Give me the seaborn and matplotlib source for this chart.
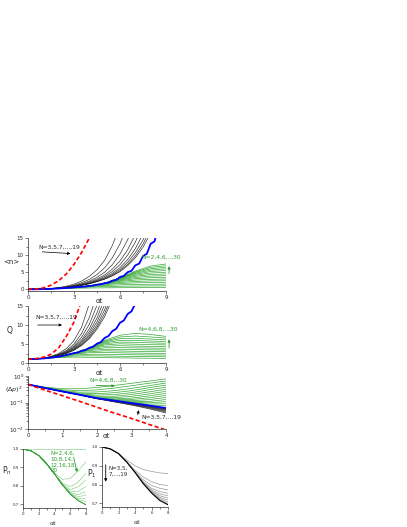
import numpy as np
import pandas as pd
import matplotlib
matplotlib.use("Agg")
import matplotlib.pyplot as plt
import seaborn as sns
from matplotlib.ticker import MultipleLocator, LogLocator, NullFormatter

# ---------------- datos ----------------
# panel <n>
t1 = [0, 0.5, 1, 1.5, 2, 2.5, 3, 3.5, 4, 4.5, 5, 5.5, 6, 6.5, 7, 7.5, 8]
t1_g = [0, 1, 2, 3, 4, 5, 6, 7, 8, 9]
n_rojo_t = [0, 0.5, 1, 1.5, 2, 2.5, 3, 3.5, 4, 4.5]
n_rojo = [0, 0.08, 0.4, 1.2, 2.5, 4.5, 7.3, 10.8, 15.0, 21]
n_azul_t = [0, 0.5, 1, 1.5, 2, 2.5, 3, 3.5, 3.75, 4, 4.25, 4.5, 4.75, 5, 5.25, 5.5, 5.75,
            6, 6.25, 6.5, 6.75, 7, 7.25, 7.5, 7.75, 8, 8.25, 8.5]
n_azul = [0, 0.015, 0.06, 0.13, 0.24, 0.38, 0.55, 0.75, 0.8, 1.0, 1.07, 1.35, 1.45, 1.8, 1.95,
          2.5, 2.75, 3.6, 3.9, 5.0, 5.4, 7.0, 7.5, 9.7, 10.4, 13.3, 14.0, 18]
n_negro = {
    3: [0, 0.02, 0.1, 0.25, 0.5, 0.9, 1.5, 2.4, 3.8, 5.7, 8.5, 12.8, 18.5],
    5: [0, 0.02, 0.09, 0.22, 0.43, 0.75, 1.2, 1.9, 2.9, 4.3, 6.3, 9.2, 13.3, 19],
    7: [0, 0.02, 0.08, 0.2, 0.4, 0.68, 1.05, 1.6, 2.4, 3.5, 5.0, 7.2, 10.3, 14.5, 20],
    9: [0, 0.02, 0.08, 0.19, 0.37, 0.62, 0.97, 1.45, 2.1, 3.0, 4.2, 5.9, 8.3, 11.6, 16],
    11: [0, 0.02, 0.08, 0.18, 0.35, 0.58, 0.9, 1.33, 1.9, 2.7, 3.75, 5.2, 7.2, 10.0, 13.8, 19],
    13: [0, 0.02, 0.07, 0.18, 0.34, 0.55, 0.85, 1.25, 1.78, 2.5, 3.4, 4.65, 6.35, 8.7, 11.9, 16.2],
    15: [0, 0.02, 0.07, 0.17, 0.33, 0.53, 0.82, 1.2, 1.7, 2.35, 3.2, 4.3, 5.8, 7.9, 10.7, 14.4, 19.5],
    17: [0, 0.02, 0.07, 0.17, 0.32, 0.52, 0.8, 1.17, 1.65, 2.27, 3.05, 4.05, 5.4, 7.3, 9.8, 13.2, 17.8],
    19: [0, 0.02, 0.07, 0.17, 0.32, 0.51, 0.79, 1.15, 1.62, 2.2, 2.95, 3.9, 5.15, 6.9, 9.2, 12.3, 16.4],
}
n_verde = {
    2: [0, 0.06, 0.18, 0.3, 0.38, 0.43, 0.46, 0.48, 0.49, 0.5],
    4: [0, 0.07, 0.22, 0.45, 0.65, 0.8, 0.9, 0.95, 0.98, 1.0],
    6: [0, 0.07, 0.23, 0.5, 0.82, 1.1, 1.3, 1.42, 1.47, 1.5],
    8: [0, 0.07, 0.24, 0.53, 0.9, 1.35, 1.7, 1.88, 1.96, 2.0],
    10: [0, 0.07, 0.24, 0.54, 0.95, 1.5, 2.0, 2.3, 2.45, 2.5],
    12: [0, 0.07, 0.24, 0.55, 0.97, 1.6, 2.3, 2.7, 2.92, 3.0],
    14: [0, 0.07, 0.24, 0.55, 0.98, 1.65, 2.5, 3.1, 3.38, 3.5],
    16: [0, 0.07, 0.24, 0.55, 1.0, 1.7, 2.7, 3.45, 3.85, 4.0],
    18: [0, 0.07, 0.24, 0.55, 1.0, 1.72, 2.85, 3.8, 4.3, 4.5],
    20: [0, 0.07, 0.24, 0.55, 1.0, 1.75, 3.0, 4.1, 4.75, 5.0],
    22: [0, 0.07, 0.24, 0.55, 1.0, 1.77, 3.1, 4.4, 5.2, 5.5],
    24: [0, 0.07, 0.24, 0.55, 1.0, 1.78, 3.2, 4.65, 5.6, 6.0],
    26: [0, 0.07, 0.24, 0.55, 1.0, 1.79, 3.3, 4.9, 6.0, 6.45],
    28: [0, 0.07, 0.24, 0.55, 1.0, 1.8, 3.35, 5.1, 6.4, 6.9],
    30: [0, 0.07, 0.24, 0.55, 1.0, 1.8, 3.4, 5.3, 6.8, 7.4],
}

# panel Q
q_rojo_t = [0, 0.5, 1, 1.5, 2, 2.5, 3, 3.5]
q_rojo = [1, 1.15, 1.5, 2.3, 4.0, 7.0, 10.8, 16.5]
q_azul_t = [0, 0.5, 1, 1.5, 2, 2.5, 3, 3.25, 3.5, 3.75, 4, 4.25, 4.5, 4.75, 5, 5.25, 5.5,
            5.75, 6, 6.25, 6.5, 6.75, 7]
q_azul = [1, 1.05, 1.2, 1.4, 1.65, 2.1, 2.6, 2.75, 3.2, 3.4, 4.0, 4.3, 5.1, 5.5, 6.6, 7.1,
          8.4, 9.0, 10.6, 11.2, 12.9, 13.6, 15.6]
q_negro = {
    3: [1, 1.08, 1.3, 1.75, 2.5, 3.8, 5.9, 9.5, 15.6],
    5: [1, 1.07, 1.28, 1.65, 2.3, 3.3, 5.0, 7.8, 12.0, 18],
    7: [1, 1.06, 1.26, 1.6, 2.2, 3.1, 4.5, 6.8, 10.2, 15.2],
    9: [1, 1.06, 1.25, 1.57, 2.1, 2.9, 4.2, 6.1, 9.0, 13.2, 19],
    11: [1, 1.06, 1.24, 1.55, 2.05, 2.8, 3.95, 5.7, 8.2, 11.8, 17],
    13: [1, 1.06, 1.23, 1.53, 2.0, 2.7, 3.75, 5.3, 7.6, 10.8, 15.3],
    15: [1, 1.05, 1.22, 1.51, 1.95, 2.6, 3.6, 5.0, 7.1, 10.0, 14.0, 19.5],
    17: [1, 1.05, 1.22, 1.5, 1.92, 2.55, 3.45, 4.8, 6.7, 9.4, 13.0, 18],
    19: [1, 1.05, 1.21, 1.48, 1.9, 2.5, 3.35, 4.6, 6.4, 8.9, 12.2, 16.8],
}
q_verde = {
    4: [1, 1.18, 1.45, 1.55, 1.5, 1.42, 1.35, 1.3, 1.25, 1.2],
    6: [1, 1.19, 1.55, 1.85, 1.9, 1.85, 1.78, 1.72, 1.68, 1.65],
    8: [1, 1.2, 1.6, 2.1, 2.3, 2.3, 2.22, 2.16, 2.12, 2.1],
    10: [1, 1.2, 1.62, 2.3, 2.7, 2.75, 2.68, 2.6, 2.56, 2.54],
    12: [1, 1.2, 1.63, 2.4, 3.0, 3.2, 3.15, 3.07, 3.02, 2.98],
    14: [1, 1.2, 1.64, 2.48, 3.3, 3.6, 3.6, 3.52, 3.46, 3.43],
    16: [1, 1.2, 1.65, 2.52, 3.5, 4.0, 4.05, 3.98, 3.92, 3.88],
    18: [1, 1.2, 1.65, 2.55, 3.65, 4.4, 4.55, 4.45, 4.37, 4.32],
    20: [1, 1.2, 1.65, 2.57, 3.75, 4.75, 5.05, 4.95, 4.83, 4.77],
    22: [1, 1.2, 1.65, 2.58, 3.82, 5.05, 5.5, 5.45, 5.3, 5.2],
    24: [1, 1.2, 1.65, 2.59, 3.88, 5.3, 5.95, 5.95, 5.78, 5.65],
    26: [1, 1.2, 1.65, 2.6, 3.92, 5.55, 6.4, 6.5, 6.3, 6.1],
    28: [1, 1.2, 1.65, 2.6, 3.95, 5.75, 6.85, 7.1, 6.85, 6.55],
    30: [1, 1.2, 1.65, 2.6, 3.97, 5.95, 7.3, 7.8, 7.5, 7.0],
}

# panel (dp)^2
t3 = [0, 0.5, 1, 1.5, 2, 2.5, 3, 3.5, 4]
dp_rojo = [0.48, 0.29, 0.18, 0.11, 0.066, 0.040, 0.025, 0.015, 0.0091]
dp_azul = [0.48, 0.35, 0.26, 0.195, 0.145, 0.118, 0.095, 0.077, 0.062]
dp_negro = {
    3: [0.48, 0.35, 0.26, 0.193, 0.138, 0.105, 0.080, 0.058, 0.040],
    5: [0.48, 0.35, 0.26, 0.193, 0.139, 0.107, 0.082, 0.061, 0.043],
    7: [0.48, 0.35, 0.26, 0.194, 0.140, 0.109, 0.084, 0.064, 0.046],
    9: [0.48, 0.35, 0.26, 0.194, 0.141, 0.111, 0.086, 0.066, 0.049],
    11: [0.48, 0.35, 0.26, 0.194, 0.142, 0.112, 0.088, 0.068, 0.051],
    13: [0.48, 0.35, 0.26, 0.195, 0.142, 0.113, 0.089, 0.070, 0.053],
    15: [0.48, 0.35, 0.26, 0.195, 0.143, 0.114, 0.090, 0.072, 0.055],
    17: [0.48, 0.35, 0.26, 0.195, 0.143, 0.115, 0.091, 0.073, 0.057],
    19: [0.48, 0.35, 0.26, 0.195, 0.144, 0.116, 0.092, 0.074, 0.058],
}
dp_verde = {
    4: [0.48, 0.38, 0.33, 0.33, 0.37, 0.44, 0.53, 0.64, 0.776],
    6: [0.48, 0.37, 0.30, 0.28, 0.30, 0.35, 0.43, 0.53, 0.649],
    8: [0.48, 0.36, 0.28, 0.245, 0.25, 0.28, 0.34, 0.43, 0.542],
    10: [0.48, 0.355, 0.27, 0.225, 0.215, 0.235, 0.28, 0.36, 0.453],
    12: [0.48, 0.35, 0.265, 0.21, 0.19, 0.2, 0.235, 0.3, 0.379],
    14: [0.48, 0.35, 0.262, 0.203, 0.172, 0.172, 0.2, 0.25, 0.316],
    16: [0.48, 0.35, 0.26, 0.2, 0.16, 0.152, 0.17, 0.21, 0.264],
    18: [0.48, 0.35, 0.26, 0.197, 0.153, 0.138, 0.146, 0.177, 0.221],
    20: [0.48, 0.35, 0.26, 0.196, 0.149, 0.13, 0.13, 0.15, 0.185],
    22: [0.48, 0.35, 0.26, 0.195, 0.147, 0.124, 0.117, 0.128, 0.154],
    24: [0.48, 0.35, 0.26, 0.195, 0.146, 0.121, 0.108, 0.11, 0.129],
    26: [0.48, 0.35, 0.26, 0.195, 0.145, 0.12, 0.102, 0.097, 0.108],
    28: [0.48, 0.35, 0.26, 0.195, 0.145, 0.119, 0.098, 0.087, 0.09],
    30: [0.48, 0.35, 0.26, 0.195, 0.145, 0.118, 0.096, 0.081, 0.075],
}

# paneles Pn y P1
t4 = [0, 1, 2, 3, 4, 5, 6, 7, 8]
pn_curvas = {
    2: [1, 1, 1, 1, 1, 1, 1, 1, 1],
    4: [1.0, 0.99, 0.965, 0.92, 0.87, 0.835, 0.84, 0.88, 0.931],
    6: [1.0, 0.99, 0.965, 0.92, 0.866, 0.815, 0.795, 0.82, 0.868],
    8: [1.0, 0.99, 0.965, 0.92, 0.865, 0.81, 0.78, 0.795, 0.832],
    10: [1.0, 0.99, 0.965, 0.92, 0.865, 0.807, 0.77, 0.77, 0.796],
    12: [1.0, 0.99, 0.965, 0.92, 0.865, 0.806, 0.763, 0.752, 0.769],
    14: [1.0, 0.99, 0.965, 0.92, 0.865, 0.805, 0.76, 0.74, 0.751],
    16: [1.0, 0.99, 0.965, 0.92, 0.865, 0.805, 0.757, 0.73, 0.733],
    18: [1.0, 0.99, 0.965, 0.92, 0.865, 0.805, 0.756, 0.725, 0.715],
    20: [1.0, 0.99, 0.965, 0.92, 0.865, 0.805, 0.755, 0.72, 0.697],
}
p1_curvas = {
    3: [1.0, 0.99, 0.965, 0.93, 0.9, 0.88, 0.87, 0.862, 0.858],
    5: [1.0, 0.99, 0.965, 0.92, 0.875, 0.84, 0.815, 0.80, 0.795],
    7: [1.0, 0.99, 0.965, 0.92, 0.868, 0.825, 0.795, 0.78, 0.771],
    9: [1.0, 0.99, 0.965, 0.92, 0.866, 0.815, 0.78, 0.762, 0.753],
    11: [1.0, 0.99, 0.965, 0.92, 0.866, 0.81, 0.772, 0.75, 0.74],
    13: [1.0, 0.99, 0.965, 0.92, 0.865, 0.808, 0.766, 0.74, 0.728],
    15: [1.0, 0.99, 0.965, 0.92, 0.865, 0.806, 0.762, 0.732, 0.717],
    17: [1.0, 0.99, 0.965, 0.92, 0.865, 0.806, 0.759, 0.725, 0.708],
    19: [1.0, 0.99, 0.965, 0.92, 0.865, 0.805, 0.757, 0.72, 0.699],
}
p1_negro = [1.0, 0.99, 0.965, 0.92, 0.865, 0.805, 0.755, 0.715, 0.692]

VERDE = "#33a833"
VERDE_TXT = "#2e9e2e"


def familia(t, curvas):
    filas = []
    for n, vals in curvas.items():
        for x, v in zip(t, vals):
            filas.append({"t": x, "v": v, "N": n})
    return pd.DataFrame(filas)


def dibujar(ax, t, curvas, **kw):
    df = familia(t, curvas)
    sns.lineplot(data=df, x="t", y="v", units="N", estimator=None, sort=False,
                 legend=False, ax=ax, **kw)


def curva(ax, t, v, **kw):
    sns.lineplot(x=t, y=v, estimator=None, sort=False, legend=False, ax=ax, **kw)


def estilo(ax, fs=4):
    for s in ["left", "bottom"]:
        ax.spines[s].set_linewidth(0.5)
    ax.tick_params(which="major", direction="out", length=2, width=0.4, labelsize=fs, pad=1)
    ax.tick_params(which="minor", direction="out", length=1.1, width=0.4)
    ax.set_xlabel("")
    ax.set_ylabel("")


sns.set_style("ticks")
plt.rcParams["font.family"] = ["DejaVu Sans"]

W, H = 407, 527
fig = plt.figure(figsize=(W / 100, H / 100), dpi=100)


def caja(x0, x1, ytop, ybot):
    return [x0 / W, (H - ybot) / H, (x1 - x0) / W, (ybot - ytop) / H]


# ---------- panel 1: <n> ----------
ax1 = fig.add_axes(caja(28, 166, 238, 291))
dibujar(ax1, t1_g, n_verde, color=VERDE, lw=0.5)
dibujar(ax1, t1, n_negro, color="#222222", lw=0.45)
curva(ax1, n_azul_t, n_azul, color="#0000ff", lw=1.3)
curva(ax1, n_rojo_t, n_rojo, color="#ff0000", lw=1.2, linestyle=(0, (2.5, 1.5)))
ax1.set_xlim(0, 9)
ax1.set_ylim(-0.5, 15)
estilo(ax1)
ax1.set_xticks([0, 3, 6, 9])
ax1.set_yticks([0, 5, 10, 15])
ax1.xaxis.set_minor_locator(MultipleLocator(1.5))
ax1.yaxis.set_minor_locator(MultipleLocator(2.5))
ax1.set_ylabel("<n>", fontsize=5, rotation=0)
ax1.yaxis.set_label_coords(-0.12, 0.5)
ax1.set_xlabel("αt", fontsize=5)
ax1.xaxis.set_label_coords(0.52, -0.13)
ax1.text(0.65, 12.4, "N=3,5,7,...,19", fontsize=4.3, va="center")
ax1.annotate("", xy=(2.95, 10.4), xytext=(0.75, 11.0),
             arrowprops=dict(arrowstyle="-|>", lw=0.5, color="black", mutation_scale=4))
ax1.text(7.4, 9.3, "N=2,4,6,..,30", fontsize=4.3, va="center", color=VERDE_TXT)
ax1.annotate("", xy=(9.2, 7.6), xytext=(9.2, 3.8), annotation_clip=False,
             arrowprops=dict(arrowstyle="-|>", lw=0.6, color=VERDE_TXT, mutation_scale=4))
sns.despine(ax=ax1)

# ---------- panel 2: Q ----------
ax2 = fig.add_axes(caja(28, 166, 306, 363))
dibujar(ax2, t1_g, q_verde, color=VERDE, lw=0.5)
dibujar(ax2, t1, q_negro, color="#222222", lw=0.45)
curva(ax2, q_azul_t, q_azul, color="#0000ff", lw=1.3)
curva(ax2, q_rojo_t, q_rojo, color="#ff0000", lw=1.2, linestyle=(0, (2.5, 1.5)))
ax2.set_xlim(0, 9)
ax2.set_ylim(0, 15)
estilo(ax2)
ax2.set_xticks([0, 3, 6, 9])
ax2.set_yticks([0, 5, 10, 15])
ax2.xaxis.set_minor_locator(MultipleLocator(1.5))
ax2.yaxis.set_minor_locator(MultipleLocator(2.5))
ax2.set_ylabel("Q", fontsize=5.5, rotation=0)
ax2.yaxis.set_label_coords(-0.13, 0.5)
ax2.set_xlabel("αt", fontsize=5)
ax2.xaxis.set_label_coords(0.52, -0.12)
ax2.text(0.45, 12.0, "N=3,5,7,...,19", fontsize=4.3, va="center")
ax2.annotate("", xy=(2.4, 10.0), xytext=(0.45, 10.0),
             arrowprops=dict(arrowstyle="-|>", lw=0.5, color="black", mutation_scale=4))
ax2.text(7.2, 8.9, "N=4,6,8,..,30", fontsize=4.3, va="center", color=VERDE_TXT)
ax2.annotate("", xy=(9.2, 7.0), xytext=(9.2, 3.2), annotation_clip=False,
             arrowprops=dict(arrowstyle="-|>", lw=0.6, color=VERDE_TXT, mutation_scale=4))
sns.despine(ax=ax2)

# ---------- panel 3: (dp)^2 ----------
ax3 = fig.add_axes(caja(28, 166, 376, 429))
dibujar(ax3, t3, dp_verde, color=VERDE, lw=0.5)
dibujar(ax3, t3, dp_negro, color="#333333", lw=0.45)
curva(ax3, t3, dp_azul, color="#0000ff", lw=1.3)
curva(ax3, t3, dp_rojo, color="#ff0000", lw=1.2, linestyle=(0, (2.5, 1.5)))
ax3.set_yscale("log")
ax3.set_xlim(0, 4)
ax3.set_ylim(0.01, 1)
estilo(ax3)
ax3.set_xticks([0, 1, 2, 3, 4])
ax3.xaxis.set_minor_locator(MultipleLocator(0.5))
ax3.yaxis.set_minor_locator(LogLocator(subs=np.arange(2, 10)))
ax3.yaxis.set_minor_formatter(NullFormatter())
ax3.set_ylabel(r"$(\Delta p)^2$", fontsize=4.6, rotation=0)
ax3.yaxis.set_label_coords(-0.1, 0.64)
ax3.set_xlabel("αt", fontsize=5)
ax3.xaxis.set_label_coords(0.57, -0.08)
ax3.text(1.78, 0.72, "N=4,6,8,..30", fontsize=4.3, va="center", color=VERDE_TXT)
ax3.annotate("", xy=(2.6, 0.42), xytext=(1.9, 0.44),
             arrowprops=dict(arrowstyle="-|>", lw=0.6, color=VERDE_TXT, mutation_scale=4))
ax3.text(3.28, 0.028, "N=3,5,7,...19", fontsize=4.3, va="center")
ax3.annotate("", xy=(3.23, 0.065), xytext=(3.16, 0.027),
             arrowprops=dict(arrowstyle="-|>", lw=0.5, color="black", mutation_scale=4))
sns.despine(ax=ax3)

# ---------- panel 4: Pn ----------
ax4 = fig.add_axes(caja(23, 86, 449, 508))
dibujar(ax4, t4, pn_curvas, color="#5cbf5c", lw=0.55, linestyle=(0, (1.2, 0.8)))
curva(ax4, t4, pn_curvas[20], color="#2a8f2a", lw=0.6)
ax4.set_xlim(0, 8)
ax4.set_ylim(0.68, 1.0)
estilo(ax4, fs=2.8)
ax4.set_xticks([0, 2, 4, 6, 8])
ax4.set_yticks([0.7, 0.8, 0.9, 1.0])
ax4.xaxis.set_minor_locator(MultipleLocator(1))
ax4.set_ylabel(r"P$_{\rm n}$", fontsize=5.5, rotation=0)
ax4.yaxis.set_label_coords(-0.25, 0.52)
ax4.set_xlabel("αt", fontsize=4.5)
ax4.xaxis.set_label_coords(0.48, -0.22)
ax4.text(3.5, 0.99, "N=2,4,6,\n10,8,14,\n12,16,18,\n20", fontsize=4, va="top",
         color=VERDE_TXT, linespacing=1.2)
ax4.annotate("", xy=(6.95, 0.86), xytext=(6.35, 0.97),
             arrowprops=dict(arrowstyle="-|>", lw=0.6, color=VERDE_TXT, mutation_scale=4))
sns.despine(ax=ax4)

# ---------- panel 5: P1 ----------
ax5 = fig.add_axes(caja(102, 168, 447, 507))
dibujar(ax5, t4, p1_curvas, color="#9a9a9a", lw=0.5)
curva(ax5, t4, p1_negro, color="black", lw=0.8)
ax5.set_xlim(0, 8)
ax5.set_ylim(0.68, 1.0)
estilo(ax5, fs=2.8)
ax5.set_xticks([0, 2, 4, 6, 8])
ax5.set_yticks([0.7, 0.8, 0.9, 1.0])
ax5.xaxis.set_minor_locator(MultipleLocator(1))
ax5.set_ylabel(r"P$_{\rm 1}$", fontsize=5.5, rotation=0)
ax5.yaxis.set_label_coords(-0.15, 0.45)
ax5.set_xlabel("αt", fontsize=4.5)
ax5.xaxis.set_label_coords(0.53, -0.22)
ax5.text(0.75, 0.9, "N=3,5,\n7,...,19", fontsize=4, va="top", linespacing=1.2)
ax5.annotate("", xy=(0.45, 0.8), xytext=(0.45, 0.92),
             arrowprops=dict(arrowstyle="-|>", lw=0.6, color="black", mutation_scale=4))
sns.despine(ax=ax5)

fig.savefig("out.png", dpi=100)
